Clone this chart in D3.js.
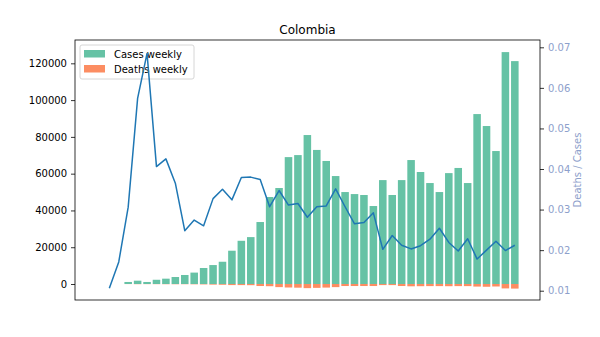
<!DOCTYPE html>
<html>
<head>
<meta charset="utf-8">
<script src="https://cdn.jsdelivr.net/npm/d3@7"></script>
<style>
  html, body { margin: 0; padding: 0; background: #fff; }
  svg { display: block; font-family: "DejaVu Sans", sans-serif; }
</style>
</head>
<body>
<svg id="chart" width="600" height="337"></svg>
<script>
const title = "Colombia";
const seriesNames = ["Cases weekly", "Deaths weekly"];
const rightLabel = "Deaths / Cases";

const weeks = d3.range(44);
const casesWeekly = [0, 0, 1100, 1800, 1100, 2300, 2900, 3800, 4900, 6200,
  8700, 10300, 12100, 18100, 23500, 25500, 33700, 47300, 52200, 69000,
  70100, 81000, 72900, 66900, 58700, 50000, 48900, 48400, 42400, 56500,
  48400, 56500, 67400, 60900, 54900, 50000, 60300, 63100, 54900, 92400,
  85900, 72300, 126100, 121200];
const deathsWeekly = [0, 0, 34, 100, 75, 90, 120, 140, 120, 170,
  230, 340, 420, 590, 600, 650, 1100, 1200, 1700, 1900,
  2000, 2250, 2100, 1950, 1700, 1100, 1100, 1100, 1100, 600,
  600, 1100, 1250, 1200, 1150, 1150, 1200, 1150, 1150, 1400,
  1500, 1350, 2400, 2500];
const deathRatio = [0.0106, 0.0171, 0.0306, 0.0574, 0.0685, 0.0406, 0.0425, 0.0365, 0.0248, 0.0274,
  0.0260, 0.0327, 0.0350, 0.0324, 0.0379, 0.0380, 0.0374, 0.0307, 0.0347, 0.0311,
  0.0315, 0.0281, 0.0307, 0.0309, 0.0351, 0.0307, 0.0265, 0.0268, 0.0292, 0.0202,
  0.0236, 0.0212, 0.0203, 0.0211, 0.0227, 0.0254, 0.0219, 0.0198, 0.0228, 0.0178,
  0.0200, 0.0222, 0.0199, 0.0212];
const leftTicks = [0, 20000, 40000, 60000, 80000, 100000, 120000];
const rightTicks = [0.01, 0.02, 0.03, 0.04, 0.05, 0.06, 0.07];

const colCases = "#66c2a5", colDeaths = "#fc8d62", colLine = "#1f77b4", colRight = "#8da0cb";
const L = 75, R = 540, T = 40, B = 300;

const svg = d3.select("#chart");
const x = d3.scaleLinear().domain([-3.64, 45.67]).range([L, R]);
const yL = d3.scaleLinear().domain([-8700, 132680]).range([B, T]);
const yR = d3.scaleLinear().domain([0.00771, 0.0718]).range([B, T]);
const bw = 0.8;

// bars
svg.append("g").selectAll("rect").data(weeks).join("rect")
  .attr("x", i => x(i - bw / 2))
  .attr("width", i => x(i + bw / 2) - x(i - bw / 2))
  .attr("y", i => yL(casesWeekly[i]))
  .attr("height", i => yL(0) - yL(casesWeekly[i]))
  .attr("fill", colCases);
svg.append("g").selectAll("rect").data(weeks).join("rect")
  .attr("x", i => x(i - bw / 2))
  .attr("width", i => x(i + bw / 2) - x(i - bw / 2))
  .attr("y", yL(0))
  .attr("height", i => yL(-deathsWeekly[i]) - yL(0))
  .attr("fill", colDeaths);

// axes
const gl = svg.append("g").attr("transform", `translate(${L},0)`)
  .call(d3.axisLeft(yL).tickValues(leftTicks).tickFormat(d3.format("d")).tickSize(4).tickPadding(4));
gl.select(".domain").remove();
gl.selectAll("text").attr("font-size", 10).attr("fill", "#000").attr("font-family", "DejaVu Sans");
gl.selectAll("line").attr("stroke", "#000").attr("stroke-width", 0.8);

const gr = svg.append("g").attr("transform", `translate(${R},0)`)
  .call(d3.axisRight(yR).tickValues(rightTicks).tickFormat(d3.format(".2f")).tickSize(4).tickPadding(4));
gr.select(".domain").remove();
gr.selectAll("text").attr("font-size", 10).attr("fill", colRight).attr("font-family", "DejaVu Sans");
gr.selectAll("line").attr("stroke", "#000").attr("stroke-width", 0.8);

svg.append("text").attr("transform", `translate(581,${(T + B) / 2}) rotate(-90)`)
  .attr("text-anchor", "middle").attr("font-size", 10).attr("fill", colRight).text(rightLabel);

svg.append("text").attr("x", (L + R) / 2).attr("y", 34).attr("text-anchor", "middle")
  .attr("font-size", 12).attr("fill", "#000").text(title);

// legend
const lg = svg.append("g");
lg.append("rect").attr("x", 80).attr("y", 45).attr("width", 114).attr("height", 34)
  .attr("rx", 2).attr("fill", "#fff").attr("fill-opacity", 0.8).attr("stroke", "#ccc").attr("stroke-width", 0.8);
[colCases, colDeaths].forEach((c, k) => {
  lg.append("rect").attr("x", 84).attr("y", 50 + k * 15).attr("width", 21).attr("height", 7.5).attr("fill", c);
  lg.append("text").attr("x", 114).attr("y", 57.5 + k * 15).attr("font-size", 10).attr("fill", "#000").text(seriesNames[k]);
});

// ratio line
svg.append("path").datum(weeks)
  .attr("d", d3.line().x(i => x(i)).y(i => yR(deathRatio[i])))
  .attr("fill", "none").attr("stroke", colLine).attr("stroke-width", 1.5).attr("stroke-linejoin", "round");

// frame
svg.append("rect").attr("x", L).attr("y", T).attr("width", R - L).attr("height", B - T)
  .attr("fill", "none").attr("stroke", "#000").attr("stroke-width", 0.8);
</script>
</body>
</html>
